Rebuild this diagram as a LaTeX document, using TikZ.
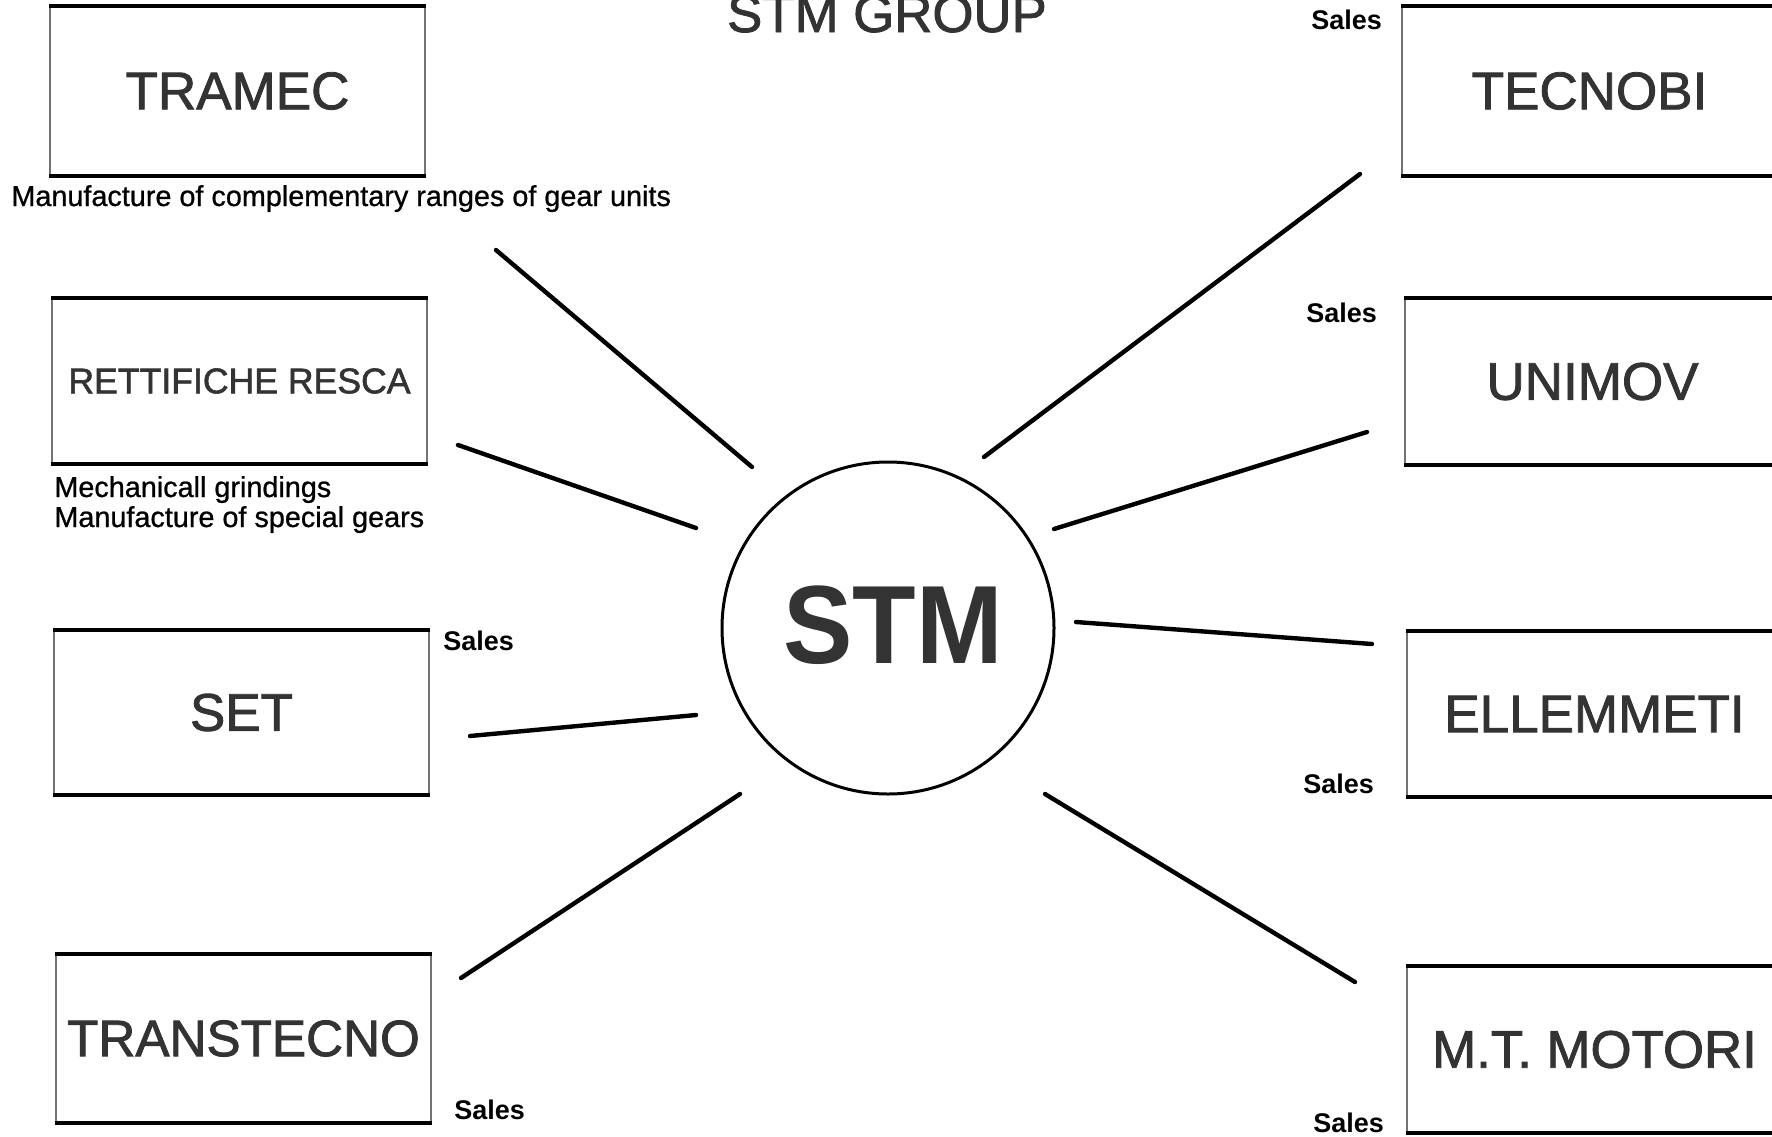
\documentclass[tikz,border=0pt]{standalone}
\usepackage{fontspec}
\setmainfont{Liberation Sans}
\newfontfamily\heavyfont{Liberation Sans}[FakeBold=1.6]
\newfontfamily\medfont{Liberation Sans}[FakeBold=0.8]
\begin{document}
\begin{tikzpicture}[x=0.5pt,y=-0.5pt,
  box/.style={draw=black!55, line width=1pt, minimum width=187.5pt, inner sep=0pt, text=black!80},
  big/.style={font=\heavyfont\fontsize{26.5}{30}\selectfont},
  edgeline/.style={line width=2pt, black},
  link/.style={line width=2.2pt, line cap=round},
  small/.style={font=\medfont\fontsize{14.4}{16}\selectfont, anchor=base west, inner sep=0pt},
  sales/.style={font=\bfseries\fontsize{13.5}{16}\selectfont, anchor=base west, inner sep=0pt}
]
\clip (0,0) rectangle (1772,1136);
% title
\node[font=\heavyfont\fontsize{26.4}{30}\selectfont, anchor=base, text=black!80] (title) at (887,32) {STM GROUP};
% centre
\node[circle, draw, line width=1.5pt, minimum size=166pt, inner sep=0pt] (stm) at (888,628) {};
\node[font=\bfseries\fontsize{52}{56}\selectfont, text=black!80] (stmlabel) at (893,625) {\scalebox{1}[1.07]{STM}};
% left boxes
\node[box,big,minimum height=84pt] (tramec) at (237.5,91) {TRAMEC};
\node[box,font=\heavyfont\fontsize{17.8}{20}\selectfont,minimum height=82pt] (resca) at (239.5,381) {RETTIFICHE RESCA};
\node[box,big,minimum height=81.5pt] (set) at (241.5,712.5) {SET};
\node[box,font=\heavyfont\fontsize{25.6}{30}\selectfont,minimum height=83.5pt] (transtecno) at (243.5,1038.5) {TRANSTECNO};
% right boxes
\node[box,big,minimum height=84pt] (tecnobi) at (1589.5,91) {TECNOBI};
\node[box,big,minimum height=82.5pt] (unimov) at (1592.5,381.5) {UNIMOV};
\node[box,big,minimum height=82pt] (ellemmeti) at (1594.5,714) {ELLEMMETI};
\node[box,font=\heavyfont\fontsize{26.4}{30}\selectfont,minimum height=82.5pt] (motori) at (1594.5,1049.5) {M.T. MOTORI};
\foreach \n in {tramec,resca,set,transtecno,tecnobi,unimov,ellemmeti,motori}{
  \draw[edgeline] (\n.north west) -- (\n.north east);
  \draw[edgeline] (\n.south west) -- (\n.south east);
}
% labels
\node[small] (d1) at (11,206) {Manufacture of complementary ranges of gear units};
\node[small] (d2) at (54,497) {Mechanicall grindings};
\node[small] (d3) at (54,527) {Manufacture of special gears};
\node[sales] (s1) at (1311,29) {Sales};
\node[sales] (s2) at (1306,322) {Sales};
\node[sales] (s3) at (443,650) {Sales};
\node[sales] (s4) at (1303,793) {Sales};
\node[sales] (s5) at (454,1119) {Sales};
\node[sales] (s6) at (1313,1132) {Sales};
% connector end points
\coordinate (a1) at (496,250);  \coordinate (b1) at (752,467);
\coordinate (a2) at (458,445);  \coordinate (b2) at (696,528);
\coordinate (a3) at (470,736);  \coordinate (b3) at (696,715);
\coordinate (a4) at (461,978);  \coordinate (b4) at (740,794);
\coordinate (a5) at (1360,174); \coordinate (b5) at (984,457);
\coordinate (a6) at (1367,432); \coordinate (b6) at (1054,529);
\coordinate (a7) at (1372,644); \coordinate (b7) at (1076,622);
\coordinate (a8) at (1355,982); \coordinate (b8) at (1045,794);
\foreach \i in {1,...,8}{ \draw[link] (a\i) -- (b\i); }
\end{tikzpicture}
\end{document}
